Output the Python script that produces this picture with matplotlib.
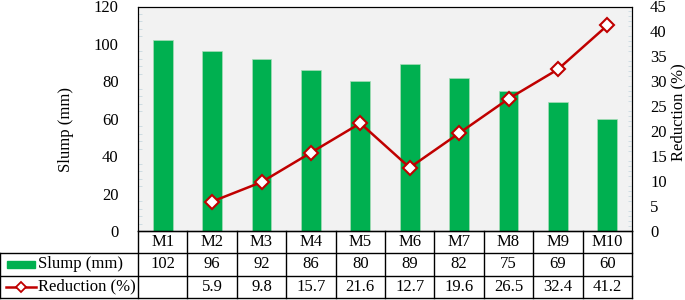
import numpy as np
import matplotlib.pyplot as plt
from matplotlib.ticker import MultipleLocator

plt.rcParams['font.family'] = 'Liberation Serif'

mixes = ['M1', 'M2', 'M3', 'M4', 'M5', 'M6', 'M7', 'M8', 'M9', 'M10']
slump = [102, 96, 92, 86, 80, 89, 82, 75, 69, 60]
reduction = [np.nan, 5.9, 9.8, 15.7, 21.6, 12.7, 19.6, 26.5, 32.4, 41.2]
reduction_txt = ['', '5.9', '9.8', '15.7', '21.6', '12.7', '19.6', '26.5', '32.4', '41.2']

green = '#00b050'
red = '#c00000'
W, H = 685, 300
fs = 12

fig = plt.figure(figsize=(6.85, 3.0), dpi=100)

# main plot area (pixel positions)
x0, x1, ytop, ybot = 138, 632, 6.5, 231
ax = fig.add_axes([x0 / W, 1 - ybot / H, (x1 - x0) / W, (ybot - ytop) / H])
ax.set_facecolor('#f2f2f2')
x = np.arange(len(mixes))
ax.bar(x, slump, width=0.4, color=green, edgecolor='#a8dcb8', linewidth=0.5, zorder=2)
ax.set_xlim(-0.5, len(mixes) - 0.5)
ax.set_ylim(0, 120)
ax.yaxis.set_major_locator(MultipleLocator(20))
ax.yaxis.set_minor_locator(MultipleLocator(4))
ax.set_xticks([])
ax.tick_params(axis='y', which='major', length=0, pad=14, labelsize=fs)
ax.tick_params(axis='y', which='minor', direction='in', length=3, color='#c8d8e0')
for s in ax.spines.values():
    s.set_color('black')
    s.set_linewidth(0.8)

ax2 = ax.twinx()
ax2.plot(x, reduction, color=red, lw=1.8, marker='D', markersize=7,
         markerfacecolor='white', markeredgecolor=red, markeredgewidth=1.5, zorder=3)
ax2.set_ylim(0, 45)
ax2.yaxis.set_major_locator(MultipleLocator(5))
ax2.yaxis.set_minor_locator(MultipleLocator(1))
ax2.tick_params(axis='y', which='major', length=0, pad=13, labelsize=fs)
ax2.tick_params(axis='y', which='minor', direction='in', length=3, color='#c8d8e0')
for s in ax2.spines.values():
    s.set_color('black')
    s.set_linewidth(0.8)

fig.text(66 / W, 1 - 130 / H, 'Slump (mm)', rotation=90, ha='center', va='center', fontsize=fs)
fig.text(678 / W, 1 - 112 / H, 'Reduction (%)', rotation=90, ha='center', va='center', fontsize=fs)

# data table underneath
tb_bot = 298
unit = (x1 - x0) / len(mixes)
tax = fig.add_axes([0, 1 - tb_bot / H, x1 / W, (tb_bot - ybot) / H])
tax.set_xlim(-0.5 - x0 / unit, len(mixes) - 0.5)
tax.set_ylim(3, 0)
tax.axis('off')
lk = dict(color='black', lw=1.0, clip_on=False)
left = -0.5 - x0 / unit
tax.plot([-0.5, len(mixes) - 0.5], [0, 0], **lk)
for yy in [1, 2, 3]:
    tax.plot([left, len(mixes) - 0.5], [yy, yy], **lk)
for i in range(len(mixes) + 1):
    tax.plot([i - 0.5, i - 0.5], [0, 3], **lk)
tax.plot([left, left], [1, 3], **lk)

for i, m in enumerate(mixes):
    tax.text(i, 0.5, m, ha='center', va='center', fontsize=fs)
    tax.text(i, 1.5, str(slump[i]), ha='center', va='center', fontsize=fs)
    tax.text(i, 2.5, reduction_txt[i], ha='center', va='center', fontsize=fs)

# legend keys in the table
px = 1 / unit
tax.add_patch(plt.Rectangle((left + 7 * px, 1.36), 28 * px, 0.3, color=green, clip_on=False))
tax.plot([left + 6 * px, left + 36 * px], [2.5, 2.5], color=red, lw=1.8, clip_on=False)
tax.plot([left + 21 * px], [2.5], marker='D', markersize=5.5, markerfacecolor='white',
         markeredgecolor=red, markeredgewidth=1.3, clip_on=False)
tax.text(left + 38 * px, 1.5, 'Slump (mm)', ha='left', va='center', fontsize=fs)
tax.text(left + 38 * px, 2.5, 'Reduction (%)', ha='left', va='center', fontsize=fs)

fig.savefig('out.png', dpi=100)
